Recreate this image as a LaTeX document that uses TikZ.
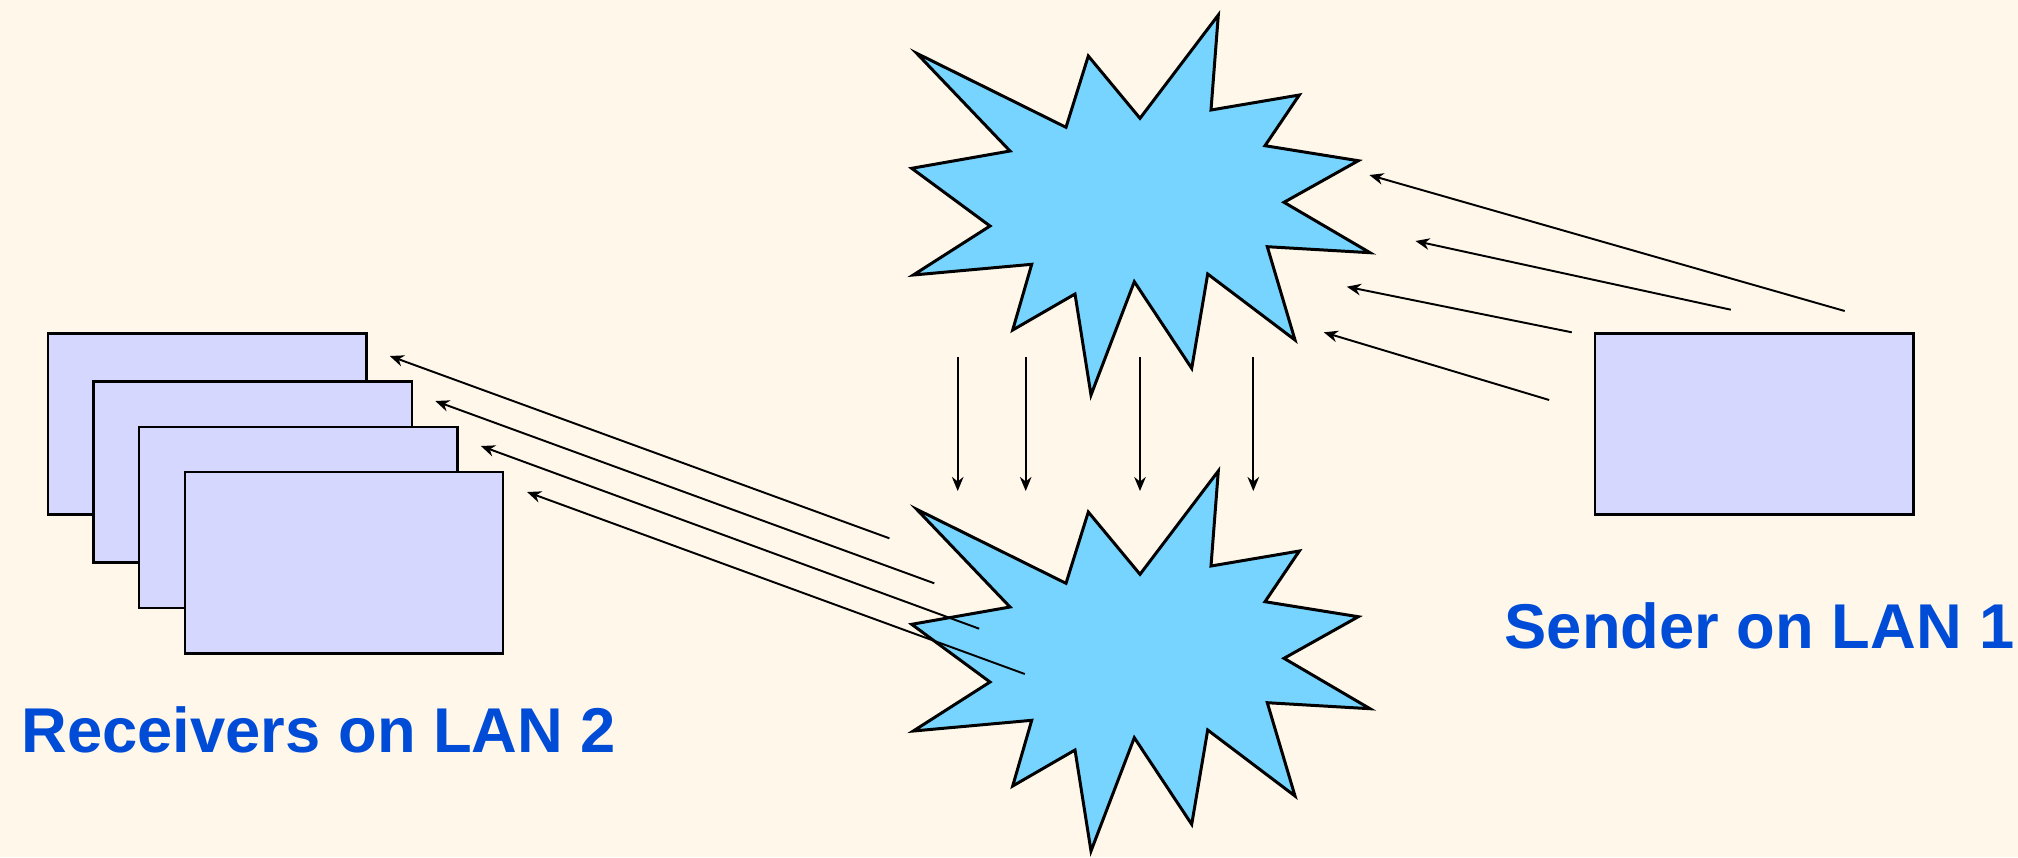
\documentclass[tikz,border=0pt]{standalone}
\usepackage{fontspec}
\setmainfont{Liberation Sans}
\usetikzlibrary{arrows.meta}

\definecolor{paper}{RGB}{254,247,234}
\definecolor{cloud}{RGB}{119,212,255}
\definecolor{host}{RGB}{213,215,255}
\definecolor{lanblue}{RGB}{0,76,214}

\tikzset{
	hostbox/.style={draw=black, line width=0.7pt, fill=host, minimum width=3.18cm, minimum height=1.81cm, inner sep=0, anchor=north west},
	burst/.style={draw=black, line width=0.85pt, fill=cloud, line join=miter},
	pkt/.style={line width=0.55pt, -{Stealth[length=4pt, width=3.3pt]}},
	lantext/.style={text=lanblue, font=\fontsize{18}{20}\selectfont\bfseries, inner sep=0, anchor=base west}
}

\begin{document}
\begin{tikzpicture}[x=0.01cm, y=-0.01cm]
				% hatter
				\fill[paper] (0,0) rectangle (2018,857);
				\useasboundingbox (0,0) rectangle (2018,857);
				
				% halozatok (felho)
				\foreach \dy in {0,456}
				\draw[burst, yshift=-\dy*0.01cm] (916.7,53.3) -- (1066,127.3) -- (1088.3,56) -- (1140,118.3) -- (1218.3,15) -- (1211,110) -- (1299.3,95) -- (1265,145.7) -- (1358.3,160.7) -- (1284,202.3) -- (1370,252.7) -- (1267.3,246.7) -- (1295,340) -- (1207.7,274) -- (1191.7,368.3) -- (1134.3,281.7) -- (1091,395) -- (1075,294) -- (1012.7,330) -- (1031.7,264.3) -- (913.3,275) -- (990,226) -- (911.7,168.3) -- (1010,151) -- cycle;
				
				% fogadok
				\node[hostbox] (recv1) at (47,332.3) {};
				\node[hostbox] (recv2) at (92.4,380.3) {};
				\node[hostbox] (recv3) at (138,425.7) {};
				\node[hostbox] (recv4) at (183.5,471) {};
				
				% kuldo
				\node[hostbox] (send) at (1594,332.3) {};
				
				% feliratok
				\node[lantext] (recvlabel) at (21,752.7) {Receivers on LAN 2};
				\node[lantext] (sendlabel) at (1504,648.3) {Sender on LAN 1};
				
				% kuldo -> felso felho
				\coordinate (sa0) at (1844.7,311);   \coordinate (sa1) at (1369.4,175);
				\coordinate (sb0) at (1730.8,309.7); \coordinate (sb1) at (1415.5,241);
				\coordinate (sc0) at (1571.8,332.3); \coordinate (sc1) at (1346.8,286.7);
				\coordinate (sd0) at (1549.2,400);   \coordinate (sd1) at (1323.8,332.3);
				\draw[pkt] (sa0) -- (sa1);
				\draw[pkt] (sb0) -- (sb1);
				\draw[pkt] (sc0) -- (sc1);
				\draw[pkt] (sd0) -- (sd1);
				
				% felso -> also felho
				\foreach \x [count=\i] in {957.7,1025.7,1140,1253.3}{
					\coordinate (v\i0) at (\x,357);
					\coordinate (v\i1) at (\x,491);
					\draw[pkt] (v\i0) -- (v\i1);
				}
				
				% also felho -> fogadok
				\coordinate (ra0) at (889.4,538.3);  \coordinate (ra1) at (389.8,356);
				\coordinate (rb0) at (934.3,583.3);  \coordinate (rb1) at (435.3,401);
				\coordinate (rc0) at (979.2,628.7);  \coordinate (rc1) at (480.9,446);
				\coordinate (rd0) at (1024.8,674);   \coordinate (rd1) at (527.1,492);
				\draw[pkt] (ra0) -- (ra1);
				\draw[pkt] (rb0) -- (rb1);
				\draw[pkt] (rc0) -- (rc1);
				\draw[pkt] (rd0) -- (rd1);
				
			\end{tikzpicture}
\end{document}
